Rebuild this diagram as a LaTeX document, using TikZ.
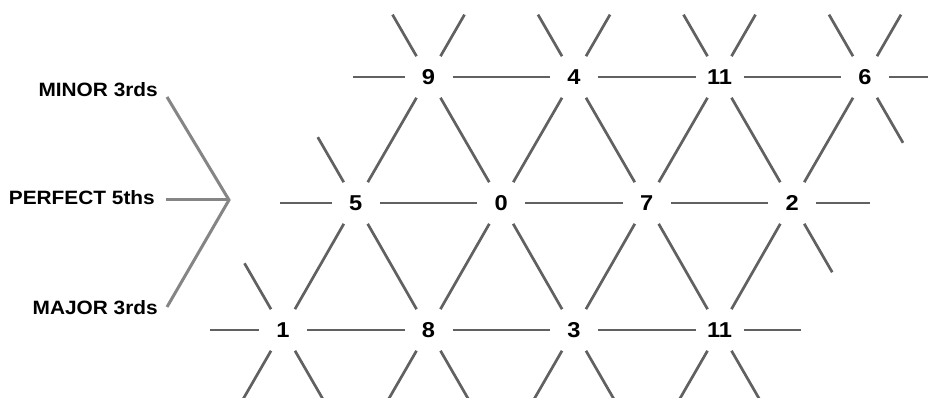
\documentclass[tikz,border=0pt]{standalone}
\usepackage{fontspec}
\setmainfont{Liberation Sans}
\newcommand\wideTxt[1]{\scalebox{1.08}[1]{#1}}
\newcommand\wideNum[1]{\scalebox{1.1}[1]{#1}}
\begin{document}
\begin{tikzpicture}[x=1pt,y=1pt,
  num/.style={inner sep=0pt, text=black, font=\fontsize{21.5}{21.5}\selectfont\bfseries},
  lab/.style={inner sep=0pt, anchor=east, text=black, font=\fontsize{19.3}{19.3}\selectfont\bfseries},
  edge/.style={draw=black!62, line width=2.7pt, shorten <=24pt, shorten >=24pt},
  stub/.style={draw=black!62, line width=2.7pt, shorten <=24pt},
  brk/.style={draw=black!48, line width=3pt}]
\clip (0,0) rectangle (928,398);
\fill[white] (0,0) rectangle (928,398);
% top row
\node[num] (t9)  at (428.5,321) {\wideNum{9}};
\node[num] (t4)  at (574,321)   {\wideNum{4}};
\node[num] (t11) at (719.5,321) {\wideNum{11}};
\node[num] (t6)  at (865,321)   {\wideNum{6}};
% middle row
\node[num] (m5) at (355.75,195) {\wideNum{5}};
\node[num] (m0) at (501.25,195) {\wideNum{0}};
\node[num] (m7) at (646.75,195) {\wideNum{7}};
\node[num] (m2) at (792.25,195) {\wideNum{2}};
% bottom row
\node[num] (b1)  at (283,68)   {\wideNum{1}};
\node[num] (b8)  at (428.5,68) {\wideNum{8}};
\node[num] (b3)  at (574,68)   {\wideNum{3}};
\node[num] (b11) at (719.5,68) {\wideNum{11}};
% horizontal edges
\draw[edge] (t9.center) -- (t4.center);
\draw[edge] (t4.center) -- (t11.center);
\draw[edge] (t11.center) -- (t6.center);
\draw[edge] (m5.center) -- (m0.center);
\draw[edge] (m0.center) -- (m7.center);
\draw[edge] (m7.center) -- (m2.center);
\draw[edge] (b1.center) -- (b8.center);
\draw[edge] (b8.center) -- (b3.center);
\draw[edge] (b3.center) -- (b11.center);
% diagonals top-middle
\draw[edge] (m5.center) -- (t9.center);
\draw[edge] (t9.center) -- (m0.center);
\draw[edge] (m0.center) -- (t4.center);
\draw[edge] (t4.center) -- (m7.center);
\draw[edge] (m7.center) -- (t11.center);
\draw[edge] (t11.center) -- (m2.center);
\draw[edge] (m2.center) -- (t6.center);
% diagonals middle-bottom
\draw[edge] (b1.center) -- (m5.center);
\draw[edge] (m5.center) -- (b8.center);
\draw[edge] (b8.center) -- (m0.center);
\draw[edge] (m0.center) -- (b3.center);
\draw[edge] (b3.center) -- (m7.center);
\draw[edge] (m7.center) -- (b11.center);
\draw[edge] (b11.center) -- (m2.center);
% stub end coordinates
\path (t9.center) ++(120:72) coordinate (s9a) (t9.center) ++(60:72) coordinate (s9b) (t9.center) ++(180:76) coordinate (s9c);
\path (t4.center) ++(120:72) coordinate (s4a) (t4.center) ++(60:72) coordinate (s4b);
\path (t11.center) ++(120:72) coordinate (s11a) (t11.center) ++(60:72) coordinate (s11b);
\path (t6.center) ++(120:72) coordinate (s6a) (t6.center) ++(60:72) coordinate (s6b) (t6.center) ++(0:76) coordinate (s6c) (t6.center) ++(300:76) coordinate (s6d);
\path (m5.center) ++(120:76) coordinate (s5a) (m5.center) ++(180:76) coordinate (s5b);
\path (m2.center) ++(0:78) coordinate (s2a) (m2.center) ++(300:80) coordinate (s2b);
\path (b1.center) ++(120:77) coordinate (s1a) (b1.center) ++(180:73) coordinate (s1b) (b1.center) ++(240:80) coordinate (s1c) (b1.center) ++(300:80) coordinate (s1d);
\path (b8.center) ++(240:80) coordinate (s8c) (b8.center) ++(300:80) coordinate (s8d);
\path (b3.center) ++(240:80) coordinate (s3c) (b3.center) ++(300:80) coordinate (s3d);
\path (b11.center) ++(240:80) coordinate (s11c) (b11.center) ++(300:80) coordinate (s11d) (b11.center) ++(0:81) coordinate (s11e);
% stubs
\foreach \n/\s in {t9/s9a,t9/s9b,t9/s9c,t4/s4a,t4/s4b,t11/s11a,t11/s11b,t6/s6a,t6/s6b,t6/s6c,t6/s6d,m5/s5a,m5/s5b,m2/s2a,m2/s2b,b1/s1a,b1/s1b,b1/s1c,b1/s1d,b8/s8c,b8/s8d,b3/s3c,b3/s3d,b11/s11c,b11/s11d,b11/s11e}
  \draw[stub] (\n.center) -- (\s);
% labels
\node[lab] (lmin) at (158,308) {\wideTxt{MINOR 3rds}};
\node[lab] (lper) at (155,200) {\wideTxt{PERFECT 5ths}};
\node[lab] (lmaj) at (158,90)  {\wideTxt{MAJOR 3rds}};
% bracket
\coordinate (bv) at (229,198);
\coordinate (bt) at (167,301);
\coordinate (bm) at (166,198);
\coordinate (bb) at (167,91);
\draw[brk] (bt) -- (bv) -- (bb);
\draw[brk] (bm) -- (bv);
\end{tikzpicture}
\end{document}
